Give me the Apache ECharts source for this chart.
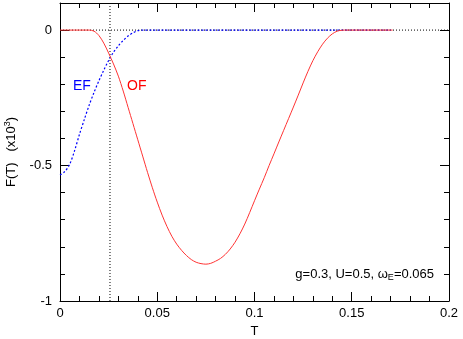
<!DOCTYPE html>
<html><head><meta charset="utf-8">
<script src="https://cdn.jsdelivr.net/npm/echarts@6/dist/echarts.min.js"></script>
<style>html,body{margin:0;padding:0;background:#fff}#c{width:463px;height:339px}</style>
</head><body><div id="c"></div>
<script>
// EF (blue dotted)
const efT = [0, 0.0025, 0.005, 0.0075, 0.01, 0.0125, 0.015, 0.0175, 0.02, 0.0225, 0.025, 0.0275, 0.03, 0.0325, 0.035, 0.0375, 0.04, 0.0425, 0.06, 0.08, 0.1, 0.12, 0.14, 0.17];
const efF = [-0.535, -0.522, -0.495, -0.445, -0.385, -0.33, -0.277, -0.23, -0.187, -0.148, -0.112, -0.082, -0.058, -0.038, -0.022, -0.01, -0.002, 0, 0, 0, 0, 0, 0, 0];
// OF (red solid)
const ofT = [0, 0.005, 0.01, 0.015, 0.0175, 0.02, 0.0225, 0.025, 0.0275, 0.03, 0.0325, 0.035, 0.0375, 0.04, 0.0425, 0.045, 0.0475, 0.05, 0.0525, 0.055, 0.0575, 0.06, 0.0625, 0.065, 0.0675, 0.07, 0.0725, 0.075, 0.0775, 0.08, 0.0825, 0.085, 0.0875, 0.09, 0.0925, 0.095, 0.0975, 0.1, 0.1025, 0.105, 0.1075, 0.11, 0.1125, 0.115, 0.1175, 0.12, 0.1225, 0.125, 0.1275, 0.13, 0.1325, 0.135, 0.1375, 0.14, 0.1425, 0.145, 0.1475, 0.15, 0.16, 0.171];
const ofF = [0, 0, 0, 0, -0.004, -0.02, -0.048, -0.085, -0.125, -0.17, -0.225, -0.285, -0.345, -0.405, -0.465, -0.525, -0.582, -0.635, -0.683, -0.725, -0.761, -0.79, -0.813, -0.832, -0.847, -0.857, -0.862, -0.864, -0.861, -0.853, -0.843, -0.828, -0.808, -0.783, -0.752, -0.716, -0.674, -0.630, -0.587, -0.545, -0.50, -0.457, -0.413, -0.37, -0.327, -0.284, -0.24, -0.195, -0.152, -0.113, -0.08, -0.052, -0.03, -0.014, -0.004, -0.0005, 0, 0, 0, 0];
// reference lines
const vLineT = 0.0257;
const xMin = 0, xMax = 0.2, xStep = 0.05;
const yMin = -1, yMax = 0.1, yStep = 0.5;

const zip = (a, b) => a.map((v, i) => [v, b[i]]);
const font = 'Liberation Sans, Arial, sans-serif';
const chart = echarts.init(document.getElementById('c'));

const mk = (pos, min, max, step) => ({
  type: 'value', min: min, max: max, interval: step, position: pos,
  axisLine: {show: true, onZero: false, lineStyle: {color: '#000'}},
  axisTick: {show: true, inside: true, length: 9, lineStyle: {color: '#000'}},
  minorTick: {show: true, splitNumber: 5, length: 5},
  splitLine: {show: false}
});

chart.setOption({
  animation: false,
  grid: {left: 60, right: 14, top: 3, bottom: 38, containLabel: false, outerBoundsMode: 'none'},
  xAxis: [
    Object.assign(mk('bottom', xMin, xMax, xStep), {name: 'T', nameLocation: 'middle', nameGap: 24,
      nameTextStyle: {color: '#000', fontSize: 13, fontFamily: font},
      axisLabel: {color: '#000', fontSize: 13, fontFamily: font, margin: 6,
        formatter: v => (Math.round(v * 100) / 100).toString()}}),
    Object.assign(mk('top', xMin, xMax, xStep), {axisLabel: {color: 'rgba(0,0,0,0)'}})
  ],
  yAxis: [
    Object.assign(mk('left', yMin, yMax, yStep), {
      name: '{a|F(T)   (x10}{b|3}{a|)}', nameLocation: 'middle', nameGap: 40, nameRotate: 90,
      nameTextStyle: {rich: {a: {color: '#000', fontSize: 13, fontFamily: font}, b: {color: '#000', fontSize: 9, fontFamily: font, verticalAlign: 'bottom', padding: [0, 0, 8, 0]}}},
      axisLabel: {color: '#000', fontSize: 13, fontFamily: font, margin: 8,
        formatter: v => (Math.abs(v) < 1e-9 ? '0' : (Math.abs(v - yMax) < 1e-9 ? '' : (Math.round(v * 10) / 10).toString()))}}),
    Object.assign(mk('right', yMin, yMax, yStep), {axisLabel: {color: 'rgba(0,0,0,0)'}})
  ],
  graphic: [
    {type: 'text', left: 73, top: 79, style: {text: 'EF', fill: '#0000ff', font: '14px ' + font}},
    {type: 'text', left: 127, top: 79, style: {text: 'OF', fill: '#ff0000', font: '14px ' + font}},
    {type: 'text', right: 29, top: 268, style: {
      text: 'g=0.3, U=0.5, ω{s|E}=0.065', fill: '#000', font: '13px ' + font,
      rich: {s: {fontSize: 9, fontFamily: font, fill: '#000', verticalAlign: 'bottom', padding: [6, 0, 0, 0]}}}}
  ],
  series: [
    {type: 'line', data: [[xMin, 0], [xMax, 0]], symbol: 'none',
      lineStyle: {color: '#000', width: 1, type: [1, 2]}},
    {type: 'line', data: [[vLineT, yMin], [vLineT, yMax]], symbol: 'none',
      lineStyle: {color: '#000', width: 1, type: [1, 2]}},
    {name: 'EF', type: 'line', data: zip(efT, efF), symbol: 'none', smooth: 0.3,
      lineStyle: {color: '#0000ff', width: 1.2, type: [2, 2]}},
    {name: 'OF', type: 'line', data: zip(ofT, ofF), symbol: 'none', smooth: 0.3,
      lineStyle: {color: '#ff3333', width: 1, type: 'solid'}}
  ]
});
</script></body></html>
